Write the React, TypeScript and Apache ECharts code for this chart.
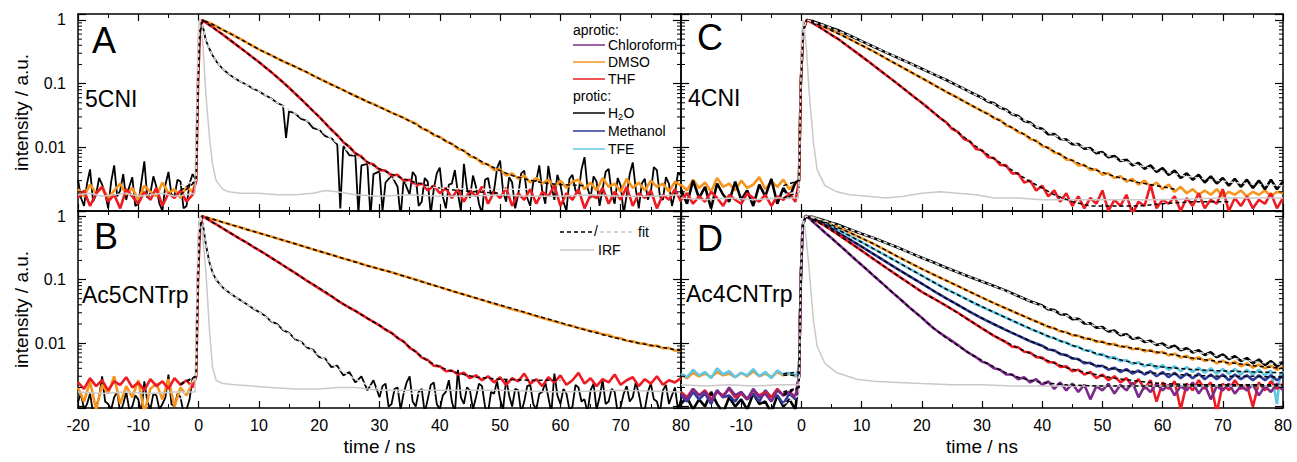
import React, { useEffect, useRef } from 'react';
import * as echarts from 'echarts';

type P = [number, number][];

const FONT = "'Liberation Sans', Arial, Helvetica, sans-serif";
const X_MIN = -20;
const X_MAX = 80;
const X_INTERVAL = 10;
const Y_TICK_VALUES = [1, 0.1, 0.01];
const Y_TICK_LABELS = ['1', '0.1', '0.01'];
const LOG_MINOR = [0.002, 0.003, 0.004, 0.005, 0.006, 0.007, 0.008, 0.009, 0.02, 0.03, 0.04, 0.05, 0.06, 0.07, 0.08, 0.09, 0.2, 0.3, 0.4, 0.5, 0.6, 0.7, 0.8, 0.9];
const PANEL_LETTERS = ['A', 'B', 'C', 'D'];
const PANEL_NAMES = ['5CNI', 'Ac5CNTrp', '4CNI', 'Ac4CNTrp'];
const LEGEND_APROTIC = ['Chloroform', 'DMSO', 'THF'];
const LEGEND_PROTIC = ['H2O', 'Methanol', 'TFE'];

const COL = {
  chcl3: '#7b2a8b', dmso: '#f7941d', thf: '#ed1c24', h2o: '#000000', meoh: '#2e3a97', tfe: '#5fc6e4',
  irf: '#c9c9c9', fitLight: '#e2e2e2',
};

// ---------------- Panel A : 5CNI ----------------
const A_H2O: P = [[-20,.0031],[-19.5,.0016],[-19,.0012],[-18.5,.0027],[-18,.0045],[-17.5,.0014],[-17,.0018],[-16.5,.0033],[-16,.0026],[-15.5,.0019],[-15,.0011],[-14.5,.0029],[-14,.0052],[-13.5,.0017],[-13,.0021],[-12.5,.0038],[-12,.0015],[-11.5,.0024],[-11,.0034],[-10.5,.0012],[-10,.0013],[-9.5,.0028],[-9,.006],[-8.5,.0016],[-8,.0019],[-7.5,.0035],[-7,.0024],[-6.5,.0013],[-6,.001],[-5.5,.0026],[-5,.0041],[-4.5,.0018],[-4,.0017],[-3.5,.0031],[-3,.0029],[-2.5,.0011],[-2,.0012],[-1.5,.0027],[-1,.0038],
[-0.4,.003],[-0.1,.12],[0.1,.7],[0.3,1],[0.8,.72],[1.2,.48],[1.8,.35],[2.3,.28],[3,.22],[4,.17],[5,.142],[6,.121],[7,.107],[8,.096],[9,.084],[10,.076],[11,.066],[12,.059],[13,.05],[14,.045],[14.5,.014],[15,.037],[16,.034],[17,.028],[18,.026],[19,.02],[20,.019],[21,.015],[22,.014],[23,.011],[23.5,.0011],[24,.0105],[25,.0075],[26,.0074],[26.5,.0009],[27,.0052],[28,.0055],[28.5,.0008],[29,.0038],[30,.0042],[30.5,.001],[31,.0028],[32,.0036],[33,.0024],[33.5,.0008],[34,.0031],
[35,.0018],[35.5,.0041],[36,.0035],[36.5,.0012],[37,.0014],[37.5,.0033],[38,.0029],[38.5,.0009],[39,.0022],[39.5,.0039],[40,.0048],[40.5,.0017],[41,.0011],[41.5,.0026],[42,.0027],[42.5,.0044],[43,.0019],[43.5,.001],[44,.0055],[44.5,.0023],[45,.0016],[45.5,.0036],[46,.0024],[46.5,.0013],[47,.0009],[47.5,.0031],[48,.0033],[48.5,.0018],[49,.0021],[49.5,.0047],[50,.0062],[50.5,.002],[51,.0014],[51.5,.0034],[52,.0028],[52.5,.0011],[53,.0018],[53.5,.0039],[54,.0043],[54.5,.0016],[55,.0012],[55.5,.0029],[56,.003],[56.5,.0052],[57,.002],[57.5,.0013],[58,.0051],[58.5,.0025],[59,.0015],[59.5,.0037],[60,.0026],[60.5,.0014],[61,.001],[61.5,.0032],[62,.0037],[62.5,.0021],[63,.0019],[63.5,.0045],[64,.007],[64.5,.0023],[65,.0016],[65.5,.0035],[66,.0029],[66.5,.0012],[67,.0022],[67.5,.0041],[68,.0046],[68.5,.0019],[69,.0013],[69.5,.0033],[70,.0025],[70.5,.0009],[71,.0018],[71.5,.0038],[72,.0058],[72.5,.0022],[73,.0011],[73.5,.0027],[74,.0032],[74.5,.0015],[75,.002],[75.5,.0049],[76,.0044],[76.5,.0017],[77,.0015],[77.5,.0034],[78,.0027],[78.5,.0012],[79,.0019],[79.5,.004],[80,.0036]];
const A_DMSO: P = [[-20,.0022],[-19,.0017],[-18,.0026],[-17,.0019],[-16,.0024],[-15,.0016],[-14,.0021],[-13,.0027],[-12,.0018],[-11,.0023],[-10,.0015],[-9,.0025],[-8,.002],[-7,.0017],[-6,.0028],[-5,.0019],[-4,.0022],[-3,.0016],[-2,.0024],[-1,.002],
[-0.4,.003],[-0.1,.1],[0.2,.6],[0.6,1],[1,.96],[2,.88],[3,.79],[4,.7],[5,.63],[6,.56],[7,.5],[8,.44],[9,.39],[10,.345],[11,.31],[12,.28],[13,.25],[14,.225],[15,.203],[16,.185],[17,.166],[18,.15],[19,.134],[20,.12],[21,.108],[22,.097],[23,.088],[24,.079],[25,.071],[26,.064],[27,.058],[28,.052],[29,.048],[30,.043],[31,.039],[32,.035],[33,.032],[34,.029],[35,.026],[36,.024],[37,.0198],[38,.0185],[39,.0155],[40,.0147],[41,.0124],[42,.0114],[43,.0094],[44,.0089],[45,.0072],[46,.0068],[47,.0056],[48,.0054],[49,.0044],[50,.0045],[51,.0036],[52,.0039],[53,.0032],[54,.0036],[55,.0028],[56,.0033],[57,.0027],[58,.0031],[59,.0024],[60,.003],[61,.0023],[62,.0029],[63,.0031],[64,.0022],[65,.0028],[66,.0021],[67,.0033],[68,.0024],[69,.0027],[70,.002],[71,.0032],[72,.0023],[73,.0028],[74,.0021],[75,.003],[76,.0024],[77,.0027],[78,.002],[79,.0029],[80,.0025]];
const A_THF: P = [[-20,.0016],[-19,.0021],[-18,.0012],[-17,.0019],[-16,.0024],[-15,.0014],[-14,.0018],[-13,.0011],[-12,.0022],[-11,.0017],[-10,.0013],[-9,.002],[-8,.0015],[-7,.0023],[-6,.0012],[-5,.0019],[-4,.0016],[-3,.0021],[-2,.0014],[-1,.0018],
[-0.4,.003],[-0.1,.1],[0.2,.6],[0.6,1],[1,.93],[2,.81],[3,.69],[4,.59],[5,.5],[6,.425],[7,.36],[8,.305],[9,.258],[10,.218],[11,.183],[12,.153],[13,.127],[14,.105],[15,.086],[16,.07],[17,.057],[18,.046],[19,.037],[20,.03],[21,.024],[22,.019],[23,.0155],[24,.012],[25,.0102],[26,.008],[27,.0072],[28,.0057],[29,.0054],[30,.0044],[31,.0043],[32,.0036],[33,.0037],[34,.003],[35,.0031],[36,.0025],[37,.0027],[38,.0021],[39,.0025],[40,.0019],[41,.0023],[42,.0016],[43,.0022],[44,.0014],[45,.0021],[46,.0017],[47,.0024],[48,.0013],[49,.002],[50,.0016],[51,.0023],[52,.0012],[53,.0019],[54,.0015],[55,.0022],[56,.0013],[57,.002],[58,.0017],[59,.0025],[60,.0012],[61,.0019],[62,.0015],[63,.0022],[64,.0011],[65,.0018],[66,.0016],[67,.0023],[68,.0013],[69,.002],[70,.0015],[71,.0024],[72,.0012],[73,.0019],[74,.0016],[75,.0021],[76,.0011],[77,.0018],[78,.0015],[79,.0022],[80,.0014]];
const A_IRF: P = [[-20,.0018],[-18,.0019],[-16,.0017],[-14,.0018],[-12,.0019],[-10,.0017],[-8,.0018],[-6,.0019],[-4,.0017],[-2,.0018],[-0.6,.0019],[-0.3,.05],[-0.1,.5],[0.1,1],[0.7,.43],[1.2,.07],[1.8,.0145],[2.3,.0055],[2.9,.003],[4,.0022],[5,.002],[7,.0019],[10,.0019],[13,.0018],[16,.0018],[19,.0019],[21,.0021],[23,.002],[26,.0018],[30,.0017],[35,.0018],[40,.0017],[45,.0017],[50,.0018],[55,.0017],[60,.0017],[65,.0018],[70,.0017],[75,.0017],[80,.0018]];
const A_FIT_DMSO: P = [[-3,.0021],[-0.4,.003],[-0.1,.1],[0.2,.6],[0.6,1],[2,.88],[4,.7],[6,.56],[8,.44],[10,.345],[12,.28],[14,.225],[16,.185],[18,.15],[20,.12],[22,.097],[24,.079],[26,.064],[28,.052],[30,.043],[32,.035],[34,.029],[36,.023],[38,.018],[40,.0143],[42,.0112],[44,.0087],[46,.0067],[48,.0053],[50,.0043],[52,.0036],[54,.0032],[56,.0029],[58,.0027],[60,.0026],[64,.0025]];
const A_FIT_THF: P = [[-3,.0018],[-0.4,.003],[-0.1,.1],[0.2,.6],[0.6,1],[2,.81],[4,.59],[6,.425],[8,.305],[10,.218],[12,.153],[14,.105],[16,.07],[18,.046],[20,.03],[22,.019],[24,.0123],[26,.0082],[28,.0059],[30,.0046],[32,.0038],[34,.0032],[36,.0028],[38,.0025],[40,.0023],[43,.0021],[46,.002],[50,.0019]];
const A_FIT_H2O: P = [[-3,.0025],[-0.4,.003],[-0.1,.12],[0.1,.7],[0.3,1],[0.8,.72],[1.2,.48],[1.8,.35],[2.3,.28],[3,.22],[4,.17],[6,.121],[8,.096],[10,.076],[12,.058],[14,.044],[16,.034],[18,.026],[20,.019],[22,.0138],[24,.01],[26,.0073],[28,.0054],[30,.0041],[32,.0033],[34,.0028],[36,.0025],[40,.0023],[45,.0022],[50,.0022],[55,.0022]];

// ---------------- Panel B : Ac5CNTrp ----------------
const B_H2O: P = [[-20,.0012],[-19.5,.0016],[-19,.0009],[-18.5,.0011],[-18,.0016],[-17.5,.0008],[-17,.001],[-16.5,.0014],[-16,.003],[-15.5,.0012],[-15,.0011],[-14.5,.0009],[-14,.0014],[-13.5,.0017],[-13,.0008],[-12.5,.0011],[-12,.0017],[-11.5,.0009],[-11,.001],[-10.5,.0015],[-10,.0013],[-9.5,.0008],[-9,.0025],[-8.5,.0012],[-8,.0009],[-7.5,.0016],[-7,.0015],[-6.5,.0009],[-6,.0011],[-5.5,.0014],[-5,.0032],[-4.5,.0011],[-4,.001],[-3.5,.0016],[-3,.0014],[-2.5,.0008],[-2,.0009],[-1.5,.0013],[-1,.0028],
[-0.4,.003],[-0.1,.1],[0.1,.7],[0.3,1],[0.7,.75],[1.2,.36],[1.8,.185],[2.3,.13],[2.9,.1],[4,.075],[5,.063],[6,.054],[7,.047],[8,.041],[9,.035],[10,.031],[11,.027],[12,.022],[13,.02],[14,.016],[15,.0145],[16,.0115],[17,.0105],[18,.0085],[19,.0078],[20,.006],[21,.0057],[22,.0042],[23,.0044],[24,.0031],[25,.0035],[26,.0024],[27,.003],[28,.0018],[29,.0026],
[30,.0014],[30.5,.0021],[31,.0023],[31.5,.001],[32,.0011],[32.5,.0019],[33,.002],[33.5,.0009],[34,.0016],[34.5,.0024],[35,.003],[35.5,.0012],[36,.001],[36.5,.0017],[37,.0019],[37.5,.0008],[38,.0013],[38.5,.0022],[39,.0024],[39.5,.0011],[40,.0009],[40.5,.0015],[41,.0017],[41.5,.0026],[42,.0012],[42.5,.0008],[43,.0038],[43.5,.0014],[44,.0011],[44.5,.002],[45,.0018],[45.5,.0009],[46,.0014],[46.5,.0023],[47,.0021],[47.5,.001],[48,.0008],[48.5,.0017],[49,.0016],[49.5,.0025],[50,.0013],[50.5,.0009],[51,.0027],[51.5,.0015],[52,.001],[52.5,.0019],[53,.0018],[53.5,.0008],[54,.0012],[54.5,.0021],[55,.0022],[55.5,.0011],[56,.0009],[56.5,.0016],[57,.0017],[57.5,.0024],[58,.0014],[58.5,.0008],[59,.0033],[59.5,.0015],[60,.0011],[60.5,.0019],[61,.0016],[61.5,.0009],[62,.001],[62.5,.0022],[63,.002],[63.5,.0012],[64,.0013],[64.5,.0008],[65,.0018],[65.5,.0023],[66,.0009],[66.5,.0014],[67,.0026],[67.5,.0011],[68,.0012],[68.5,.0019],[69,.0017],[69.5,.0008],[70,.001],[70.5,.0016],[71,.0021],[71.5,.0012],[72,.0014],[72.5,.0024],[73,.0016],[73.5,.0009],[74,.0009],[74.5,.0017],[75,.0023],[75.5,.0013],[76,.0012],[76.5,.0008],[77,.0018],[77.5,.0022],[78,.0011],[78.5,.0015],[79,.002],[79.5,.0009],[80,.0013]];
const B_DMSO: P = [[-20,.002],[-19,.0012],[-18,.0025],[-17,.0009],[-16,.0022],[-15,.0016],[-14,.003],[-13,.0011],[-12,.0021],[-11,.0014],[-10,.0026],[-9,.0008],[-8,.0019],[-7,.0023],[-6,.0013],[-5,.0027],[-4,.001],[-3,.002],[-2,.0015],[-1,.0024],
[-0.4,.003],[-0.1,.1],[0.2,.6],[0.6,1],[1,.97],[2,.91],[3,.855],[4,.8],[5,.75],[6,.7],[7,.66],[8,.615],[9,.575],[10,.54],[12,.475],[14,.415],[16,.365],[18,.32],[20,.28],[22,.245],[24,.215],[26,.19],[28,.165],[30,.147],[32,.13],[34,.114],[36,.1],[38,.087],[40,.076],[42,.066],[44,.058],[46,.051],[48,.0445],[50,.039],[52,.034],[54,.0302],[56,.0265],[58,.0232],[60,.0207],[61,.0192],[62,.0186],[63,.0172],[64,.0165],[65,.0154],[66,.0149],[67,.0137],[68,.0134],[69,.0122],[70,.0119],[71,.0109],[72,.0107],[73,.0099],[74,.0098],[75,.009],[76,.0091],[77,.0083],[78,.0084],[79,.0076],[80,.0077]];
const B_THF: P = [[-20,.0024],[-19,.0019],[-18,.0028],[-17,.0021],[-16,.0026],[-15,.0018],[-14,.0025],[-13,.0022],[-12,.0029],[-11,.002],[-10,.0024],[-9,.0018],[-8,.0027],[-7,.0021],[-6,.0025],[-5,.0019],[-4,.0028],[-3,.0022],[-2,.0026],[-1,.002],
[-0.4,.003],[-0.1,.1],[0.2,.6],[0.6,1],[1,.95],[2,.83],[3,.73],[4,.64],[5,.56],[6,.49],[7,.43],[8,.38],[9,.33],[10,.29],[11,.255],[12,.222],[13,.193],[14,.168],[15,.146],[16,.127],[17,.11],[18,.095],[19,.083],[20,.072],[21,.063],[22,.055],[23,.047],[24,.041],[25,.036],[26,.032],[27,.028],[28,.0245],[29,.0215],[30,.019],[31,.0162],[32,.0145],[33,.012],[34,.0106],[35,.0084],[36,.0074],[37,.0059],[38,.0054],[39,.0044],[40,.0043],[41,.0036],[42,.0037],[43,.0032],[44,.0034],[45,.0028],[46,.0031],[47,.0026],[48,.003],[49,.0024],[50,.0029],[51,.0022],[52,.0028],[53,.0025],[54,.0033],[55,.0023],[56,.0027],[57,.0021],[58,.0029],[59,.0024],[60,.0031],[61,.0022],[62,.0026],[63,.0034],[64,.0023],[65,.0028],[66,.0021],[67,.0027],[68,.0024],[69,.0032],[70,.0022],[71,.0026],[72,.0029],[73,.0021],[74,.0027],[75,.0023],[76,.003],[77,.0022],[78,.0026],[79,.0024],[80,.0028]];
const B_IRF: P = [[-20,.0017],[-16,.0016],[-12,.0017],[-8,.0016],[-4,.0017],[-0.6,.0017],[-0.3,.05],[-0.1,.5],[0.2,1],[0.7,.45],[1.2,.137],[1.8,.016],[2.3,.0042],[2.9,.0026],[4,.0023],[6,.0022],[9,.0021],[12,.002],[16,.0019],[20,.0019],[23,.002],[26,.002],[30,.0018],[35,.0018],[40,.0018],[50,.0018],[60,.0017],[70,.0018],[80,.0017]];
const B_FIT_DMSO: P = [[-3,.0022],[-0.4,.003],[-0.1,.1],[0.2,.6],[0.6,1],[4,.8],[8,.615],[12,.475],[16,.365],[20,.28],[24,.215],[28,.165],[32,.13],[36,.099],[40,.076],[44,.058],[48,.045],[52,.035],[56,.027],[60,.021],[64,.0162],[68,.0128],[72,.0104],[76,.0089],[80,.0076]];
const B_FIT_THF: P = [[-3,.0023],[-0.4,.003],[-0.1,.1],[0.2,.6],[0.6,1],[2,.83],[4,.64],[6,.49],[8,.38],[10,.29],[12,.222],[14,.168],[16,.127],[18,.095],[20,.074],[22,.055],[24,.041],[26,.032],[28,.0245],[30,.019],[32,.0143],[34,.0104],[36,.0072],[38,.0052],[40,.0042],[42,.0036],[44,.0032],[46,.0029],[50,.0027],[55,.0026],[60,.0026]];
const B_FIT_H2O: P = [[-3,.0013],[-0.4,.003],[-0.1,.1],[0.1,.7],[0.3,1],[0.7,.75],[1.2,.36],[1.8,.185],[2.3,.13],[2.9,.1],[4,.075],[6,.054],[8,.041],[10,.031],[12,.0225],[14,.0165],[16,.012],[18,.0088],[20,.0064],[22,.0047],[24,.0035],[26,.0027],[28,.0022],[30,.0019],[33,.0017],[36,.0016],[40,.0016]];

// ---------------- Panel C : 4CNI ----------------
const C_H2O: P = [[-20,.0022],[-19,.0013],[-18,.003],[-17,.0016],[-16,.0024],[-15,.0011],[-14,.0027],[-13,.0018],[-12,.0014],[-11,.0029],[-10,.0015],[-9,.0021],[-8,.0012],[-7,.0026],[-6,.0017],[-5,.0032],[-4,.0013],[-3,.0023],[-2,.0016],[-1,.0028],
[-0.4,.003],[-0.1,.1],[0.3,.7],[0.9,1],[2,.95],[3,.88],[4,.81],[5,.75],[6,.695],[8,.57],[10,.465],[12,.38],[14,.31],[16,.255],[18,.21],[20,.171],[22,.14],[24,.115],[26,.092],[28,.074],[30,.06],[31,.052],[32,.049],[33,.042],[34,.039],[35,.033],[36,.031],[37,.026],[38,.0245],[39,.0205],[40,.0195],[41,.016],[42,.0162],[43,.0135],[44,.0133],[45,.0112],[46,.0113],[47,.0095],[48,.0097],[49,.0081],[50,.0084],[51,.007],[52,.0073],[53,.0061],[54,.0064],[55,.0052],[56,.0057],[57,.0046],[58,.0052],[59,.0041],[60,.0047],[61,.0037],[62,.0043],[63,.0033],[64,.0039],[65,.0031],[66,.0037],[67,.0028],[68,.0035],[69,.0027],[70,.0033],[71,.0025],[72,.0032],[73,.0024],[74,.0031],[75,.0023],[76,.003],[77,.0022],[78,.0031],[79,.0022],[80,.0029]];
const C_DMSO: P = [[-20,.0026],[-19,.0021],[-18,.0031],[-17,.0023],[-16,.0028],[-15,.002],[-14,.0033],[-13,.0024],[-12,.0027],[-11,.0021],[-10,.003],[-9,.0023],[-8,.0026],[-7,.0034],[-6,.0022],[-5,.0029],[-4,.0024],[-3,.0031],[-2,.0022],[-1,.0027],
[-0.4,.003],[-0.1,.1],[0.3,.7],[0.9,1],[2,.92],[3,.84],[4,.76],[5,.69],[6,.625],[8,.5],[10,.4],[12,.32],[14,.25],[16,.197],[18,.155],[20,.122],[22,.096],[24,.075],[26,.06],[28,.047],[30,.037],[31,.034],[32,.0285],[33,.027],[34,.022],[35,.0205],[36,.0172],[37,.0162],[38,.0134],[39,.0128],[40,.0104],[41,.0099],[42,.0082],[43,.0079],[44,.0064],[45,.0063],[46,.0052],[47,.0053],[48,.0044],[49,.0045],[50,.0037],[51,.0039],[52,.0033],[53,.0035],[54,.0029],[55,.0032],[56,.0026],[57,.003],[58,.0024],[59,.0028],[60,.0022],[61,.0026],[62,.002],[63,.0024],[64,.0019],[65,.0022],[66,.0018],[67,.0021],[68,.0018],[69,.0022],[70,.0017],[71,.002],[72,.0018],[73,.0021],[74,.0017],[75,.002],[76,.0018],[77,.0021],[78,.0017],[79,.002],[80,.0019]];
const C_THF: P = [[-20,.0015],[-19,.0019],[-18,.0013],[-17,.0017],[-16,.0014],[-15,.002],[-14,.0016],[-13,.0012],[-12,.0018],[-11,.0015],[-10,.0013],[-9,.0019],[-8,.0016],[-7,.0014],[-6,.0018],[-5,.0012],[-4,.0017],[-3,.0015],[-2,.0019],[-1,.0014],
[-0.4,.003],[-0.1,.1],[0.3,.7],[0.9,1],[2,.88],[3,.77],[4,.67],[5,.58],[6,.51],[7,.435],[8,.37],[9,.315],[10,.268],[11,.228],[12,.193],[13,.163],[14,.138],[15,.117],[16,.099],[17,.083],[18,.07],[19,.059],[20,.05],[21,.042],[22,.035],[23,.029],[24,.025],[25,.0195],[26,.0175],[27,.0135],[28,.0124],[29,.0094],[30,.009],[31,.007],[32,.0068],[33,.0053],[34,.0052],[35,.0039],[36,.0039],[37,.0028],[38,.003],[39,.0021],[40,.0025],[41,.0017],[42,.0021],[43,.0014],[44,.0019],[45,.0012],[46,.0017],[47,.0011],[48,.0016],[49,.0013],[50,.0021],[51,.001],[52,.0015],[53,.0012],[54,.0018],[55,.0009],[56,.0014],[57,.0012],[58,.0026],[59,.0011],[60,.0015],[61,.0013],[62,.0017],[63,.001],[64,.0016],[65,.0012],[66,.0019],[67,.0011],[68,.0015],[69,.0013],[70,.0022],[71,.001],[72,.0016],[73,.0012],[74,.0017],[75,.0011],[76,.0015],[77,.0013],[78,.0019],[79,.0011],[80,.0016]];
const C_IRF: P = [[-20,.0016],[-16,.0015],[-12,.0016],[-8,.0015],[-4,.0016],[-0.5,.0016],[-0.2,.05],[0,.5],[0.3,1],[0.8,.4],[1.3,.07],[2,.012],[2.6,.0045],[3.9,.0025],[5.9,.002],[8,.0018],[11,.0017],[14,.0016],[17,.0017],[20,.0019],[23,.002],[26,.0019],[29,.0018],[32,.0016],[36,.0016],[40,.0015],[50,.0015],[60,.0015],[70,.0016],[80,.0016]];
const C_FIT_H2O: P = [[-3,.0018],[-0.4,.002],[-0.1,.1],[0.3,.7],[0.9,1],[4,.81],[8,.57],[12,.38],[16,.255],[20,.171],[24,.115],[28,.074],[32,.048],[36,.03],[40,.0188],[44,.0128],[48,.0092],[52,.0068],[56,.0052],[60,.0042],[64,.0035],[68,.0031],[72,.0028],[76,.0026],[80,.0025]];
const C_FIT_DMSO: P = [[-3,.0025],[-0.4,.003],[-0.1,.1],[0.3,.7],[0.9,1],[4,.76],[8,.5],[12,.32],[16,.197],[20,.122],[24,.075],[28,.047],[32,.0293],[36,.018],[40,.0109],[44,.0068],[48,.0047],[52,.0035],[56,.0028],[60,.0024],[62,.0022]];
const C_FIT_THF: P = [[-3,.0016],[-0.4,.002],[-0.1,.1],[0.3,.7],[0.9,1],[2,.88],[4,.67],[6,.51],[8,.37],[10,.268],[12,.193],[14,.138],[16,.099],[18,.07],[20,.05],[22,.035],[24,.0245],[26,.0172],[28,.0122],[30,.0088],[32,.0066],[34,.005],[36,.0038],[38,.0029],[40,.0023],[42,.0018],[45,.0014],[48,.0012],[52,.0012],[56,.0012],[60,.0013],[65,.0014],[71,.0014]];

// ---------------- Panel D : Ac4CNTrp ----------------
const D_H2O: P = [[-20,.0011],[-19,.0014],[-18,.0009],[-17,.0013],[-16,.001],[-15,.0017],[-14,.0011],[-13,.0008],[-12,.0014],[-11,.001],[-10,.0013],[-9,.0009],[-8,.0016],[-7,.0011],[-6,.0012],[-5,.0008],[-4,.0015],[-3,.001],[-2,.0013],[-1,.0009],
[-0.4,.003],[-0.1,.1],[0.2,.7],[0.7,1],[2,.96],[3,.9],[4,.84],[5,.785],[6,.735],[8,.62],[10,.525],[12,.45],[14,.38],[16,.32],[18,.265],[20,.22],[22,.185],[24,.155],[26,.13],[28,.11],[30,.093],[32,.079],[34,.067],[36,.055],[38,.0455],[40,.039],[41,.034],[42,.033],[43,.0285],[44,.028],[45,.0238],[46,.0241],[47,.0204],[48,.0205],[49,.0175],[50,.0178],[51,.0152],[52,.0157],[53,.0133],[54,.0138],[55,.0117],[56,.0121],[57,.0104],[58,.0109],[59,.0093],[60,.0098],[61,.0085],[62,.0091],[63,.0077],[64,.0083],[65,.0071],[66,.0077],[67,.0065],[68,.0072],[69,.006],[70,.0066],[71,.0056],[72,.0062],[73,.0052],[74,.0058],[75,.0048],[76,.0055],[77,.0045],[78,.0052],[79,.0043],[80,.005]];
const D_DMSO: P = [[-20,.0031],[-19,.0028],[-18,.0034],[-17,.003],[-16,.0033],[-15,.0029],[-14,.0035],[-13,.0031],[-12,.0033],[-11,.0029],[-10,.0034],[-9,.003],[-8,.0036],[-7,.003],[-6,.0033],[-5,.0029],[-4,.0035],[-3,.0031],[-2,.0033],[-1,.003],
[-0.4,.003],[-0.1,.1],[0.2,.7],[0.7,1],[2,.95],[3,.87],[4,.8],[5,.73],[6,.67],[8,.55],[10,.45],[12,.365],[14,.29],[16,.23],[18,.183],[20,.147],[22,.119],[24,.097],[26,.079],[28,.064],[30,.052],[32,.0425],[34,.035],[36,.029],[38,.024],[40,.0202],[41,.0178],[42,.0172],[43,.0152],[44,.0149],[45,.0132],[46,.0131],[47,.0117],[48,.0118],[49,.0104],[50,.0106],[51,.0095],[52,.0097],[53,.0087],[54,.0089],[55,.008],[56,.0083],[57,.0074],[58,.0078],[59,.0069],[60,.0073],[61,.0064],[62,.0068],[63,.0059],[64,.0063],[65,.0055],[66,.006],[67,.0052],[68,.0056],[69,.0048],[70,.0053],[71,.0046],[72,.0051],[73,.0043],[74,.0048],[75,.0041],[76,.0046],[77,.004],[78,.0044],[79,.0038],[80,.0042]];
const D_TFE: P = [[-20,.0033],[-19,.0029],[-18,.0038],[-17,.0031],[-16,.0035],[-15,.0028],[-14,.004],[-13,.0032],[-12,.0036],[-11,.0029],[-10,.0034],[-9,.0031],[-8,.0039],[-7,.003],[-6,.0035],[-5,.0028],[-4,.0037],[-3,.0032],[-2,.0034],[-1,.003],
[-0.4,.004],[-0.1,.1],[0.2,.7],[0.7,1],[2,.93],[3,.85],[4,.77],[5,.69],[6,.615],[8,.49],[10,.39],[12,.305],[14,.24],[16,.188],[18,.147],[20,.115],[22,.09],[24,.071],[26,.058],[28,.046],[30,.037],[32,.0305],[34,.025],[36,.0205],[38,.0167],[40,.0142],[41,.0125],[42,.0121],[43,.0106],[44,.0103],[45,.009],[46,.0088],[47,.0077],[48,.0076],[49,.0066],[50,.0067],[51,.0058],[52,.006],[53,.0052],[54,.0054],[55,.0047],[56,.005],[57,.0043],[58,.0047],[59,.004],[60,.0045],[61,.0038],[62,.0043],[63,.0036],[64,.0042],[65,.0035],[66,.0041],[67,.0034],[68,.004],[69,.0033],[70,.0039],[71,.0033],[72,.0039],[73,.0032],[74,.0038],[75,.0032],[76,.0038],[77,.0031],[78,.0037],[79,.0011],[79.5,.0031],[80,.0036]];
const D_MEOH: P = [[-20,.0015],[-19,.0012],[-18,.0017],[-17,.0013],[-16,.0016],[-15,.0011],[-14,.0018],[-13,.0014],[-12,.0015],[-11,.0012],[-10,.0017],[-9,.0013],[-8,.0016],[-7,.0012],[-6,.0018],[-5,.0014],[-4,.0015],[-3,.0011],[-2,.0016],[-1,.0013],
[-0.4,.003],[-0.1,.1],[0.2,.7],[0.7,1],[2,.91],[3,.81],[4,.72],[5,.635],[6,.555],[8,.43],[10,.33],[12,.252],[14,.192],[16,.146],[18,.112],[20,.086],[22,.066],[24,.051],[26,.04],[28,.031],[30,.0245],[32,.0198],[34,.016],[36,.0131],[38,.0107],[40,.0091],[41,.0079],[42,.0077],[43,.0067],[44,.0065],[45,.0057],[46,.0056],[47,.0048],[48,.0049],[49,.0043],[50,.0044],[51,.0038],[52,.0041],[53,.0035],[54,.0039],[55,.0033],[56,.0037],[57,.0032],[58,.0036],[59,.003],[60,.0035],[61,.0029],[62,.0034],[63,.0028],[64,.0033],[65,.0028],[66,.0033],[67,.0027],[68,.0032],[69,.0027],[70,.0032],[71,.0026],[72,.0032],[73,.0027],[74,.0031],[75,.0026],[76,.0031],[77,.0026],[78,.0031],[79,.0026],[80,.003]];
const D_THF: P = [[-20,.0017],[-19,.0014],[-18,.0019],[-17,.0015],[-16,.0018],[-15,.0013],[-14,.0017],[-13,.0015],[-12,.0019],[-11,.0014],[-10,.0016],[-9,.0013],[-8,.0018],[-7,.0015],[-6,.0017],[-5,.0014],[-4,.0019],[-3,.0015],[-2,.0017],[-1,.0014],
[-0.4,.003],[-0.1,.1],[0.2,.7],[0.7,1],[2,.89],[3,.79],[4,.69],[5,.6],[6,.52],[8,.385],[10,.285],[12,.21],[14,.155],[16,.115],[18,.086],[20,.064],[22,.05],[24,.039],[26,.03],[28,.0225],[30,.017],[32,.013],[34,.0103],[35,.0088],[36,.0086],[37,.0073],[38,.0071],[39,.006],[40,.0059],[41,.005],[42,.005],[43,.0042],[44,.0043],[45,.0036],[46,.0038],[47,.0032],[48,.0035],[49,.0028],[50,.0032],[51,.0026],[52,.003],[53,.0024],[54,.0028],[55,.0021],[56,.0027],[57,.0019],[58,.0026],[59,.0012],[60,.0024],[61,.0019],[62,.0025],[63,.0009],[64,.0023],[65,.0018],[66,.0026],[67,.0019],[68,.0024],[69,.0008],[70,.0023],[71,.0018],[72,.0026],[73,.0019],[74,.0022],[75,.001],[76,.0024],[77,.0018],[78,.0025],[79,.0019],[80,.0023]];
const D_CHCL3: P = [[-20,.0016],[-19,.0013],[-18,.0019],[-17,.0015],[-16,.0017],[-15,.0012],[-14,.0018],[-13,.0014],[-12,.002],[-11,.0015],[-10,.0017],[-9,.0013],[-8,.0019],[-7,.0014],[-6,.0016],[-5,.0012],[-4,.0018],[-3,.0015],[-2,.0017],[-1,.0014],
[-0.4,.003],[-0.1,.1],[0.2,.7],[0.7,1],[1,.98],[2,.8],[3,.66],[4,.54],[5,.45],[6,.37],[7,.305],[8,.25],[9,.205],[10,.17],[11,.14],[12,.115],[13,.095],[14,.078],[15,.064],[16,.053],[17,.044],[18,.036],[19,.03],[20,.025],[21,.0205],[22,.017],[23,.0145],[24,.0125],[25,.0108],[26,.0093],[27,.0079],[28,.0068],[29,.006],[30,.0051],[31,.0047],[32,.004],[33,.0038],[34,.0032],[35,.0032],[36,.0027],[37,.0029],[38,.0024],[39,.0027],[40,.0022],[41,.0025],[42,.0019],[43,.0024],[44,.0018],[45,.0023],[46,.0017],[47,.0022],[48,.0013],[49,.0021],[50,.0018],[51,.0023],[52,.0016],[53,.0022],[54,.0018],[55,.0024],[56,.0014],[57,.0021],[58,.0017],[59,.0023],[60,.0018],[61,.0022],[62,.0015],[63,.0021],[64,.0018],[65,.0024],[66,.0016],[67,.0022],[68,.0013],[69,.0021],[70,.0018],[71,.0023],[72,.0016],[73,.0021],[74,.0018],[75,.0022],[76,.0015],[77,.0021],[78,.0017],[79,.0023],[80,.0018]];
const D_IRF: P = [[-20,.0022],[-16,.0021],[-12,.0022],[-8,.0021],[-4,.0022],[-0.5,.0022],[-0.2,.05],[0,.5],[0.3,1],[0.8,.45],[1.3,.14],[2,.023],[2.6,.009],[3.9,.0048],[5.9,.0034],[9.2,.0027],[12,.0025],[16,.0024],[20,.0023],[25,.0022],[30,.0022],[35,.0021],[40,.0021],[50,.0021],[60,.0021],[70,.0021],[80,.0021]];
const D_FIT_H2O: P = [[-3,.0011],[-0.4,.0015],[-0.1,.1],[0.2,.7],[0.7,1],[4,.84],[8,.62],[12,.45],[16,.32],[20,.22],[24,.155],[28,.11],[32,.079],[36,.055],[40,.038],[44,.0272],[48,.0198],[52,.0148],[56,.0115],[60,.0092],[64,.0077],[68,.0066],[72,.0057],[76,.005],[80,.0046]];
const D_FIT_DMSO: P = [[-3,.0031],[-0.4,.0031],[-0.1,.1],[0.2,.7],[0.7,1],[4,.8],[8,.55],[12,.365],[16,.23],[20,.147],[24,.097],[28,.064],[32,.0425],[36,.029],[40,.0198],[44,.0145],[48,.0114],[52,.0093],[56,.008],[60,.007],[64,.006],[68,.0053],[72,.0048],[76,.0043],[80,.004]];
const D_FIT_TFE: P = [[-3,.0033],[-0.4,.0035],[-0.1,.1],[0.2,.7],[0.7,1],[4,.77],[8,.49],[12,.305],[16,.188],[20,.115],[24,.071],[28,.046],[32,.0305],[36,.0205],[40,.014],[44,.01],[48,.0073],[52,.0057],[56,.0047],[60,.0042],[64,.0039],[68,.0037],[72,.0036],[76,.0035],[80,.0034]];
const D_FIT_MEOH: P = [[-3,.0015],[-0.4,.002],[-0.1,.1],[0.2,.7],[0.7,1],[4,.72],[8,.43],[12,.252],[16,.146],[20,.086],[24,.051],[28,.031],[32,.0198],[36,.0131],[40,.0089],[44,.0063],[48,.0047],[52,.0039],[56,.0035],[60,.0033],[65,.0031],[70,.003],[75,.003],[80,.0029]];
const D_FIT_THF: P = [[-3,.0017],[-0.4,.002],[-0.1,.1],[0.2,.7],[0.7,1],[4,.69],[8,.385],[12,.21],[16,.115],[20,.064],[24,.039],[28,.0225],[32,.013],[36,.0083],[40,.0057],[44,.0041],[48,.0033],[52,.0028],[56,.0025],[60,.0023],[66,.0022],[72,.0022],[80,.0022]];
const D_FIT_CHCL3: P = [[-3,.0016],[-0.4,.002],[-0.1,.1],[0.2,.7],[0.7,1],[2,.8],[4,.54],[6,.37],[8,.25],[10,.17],[12,.115],[14,.078],[16,.053],[18,.036],[20,.025],[22,.017],[24,.0122],[26,.0091],[28,.0068],[30,.0053],[32,.0042],[34,.0034],[36,.0029],[38,.0026],[40,.0024],[44,.0022],[50,.0021],[60,.0021],[70,.0021],[80,.0021]];

const GRIDS = [
  { left: 78, top: 14, width: 603, height: 197 },
  { left: 78, top: 211, width: 603, height: 197 },
  { left: 681, top: 14, width: 602, height: 197 },
  { left: 681, top: 211, width: 602, height: 197 },
];
const Y_RANGES = [[0.001, 1.24], [0.00095, 1.2], [0.001, 1.24], [0.00095, 1.2]];

const dataLine = (g: number, name: string, data: P, color: string, width = 2.6) => ({
  type: 'line', name, xAxisIndex: g, yAxisIndex: g, data, showSymbol: false, symbol: 'none',
  lineStyle: { color, width, join: 'bevel' }, itemStyle: { color }, silent: true, clip: true, z: 2,
});
const fitLine = (g: number, data: P, color: string) => ({
  type: 'line', xAxisIndex: g, yAxisIndex: g, data, showSymbol: false, symbol: 'none',
  lineStyle: { color, width: 1.5, type: [4, 3] }, itemStyle: { color }, silent: true, clip: true, z: 3,
});

function buildOption() {
  const xAxes: any[] = [];
  const yAxes: any[] = [];
  const lineStyle = { color: '#000', width: 1.5 };
  for (let pos = 0; pos < 2; pos++) {
    GRIDS.forEach((_, g) => {
      const bottom = pos === 0;
      const showLabels = bottom && (g === 1 || g === 3);
      xAxes.push({
        type: 'value', gridIndex: g, position: bottom ? 'bottom' : 'top', min: X_MIN, max: X_MAX, interval: X_INTERVAL,
        axisLine: { show: true, onZero: false, lineStyle },
        axisTick: { show: true, inside: true, length: 7, lineStyle: { color: '#000', width: 1.2 } },
        minorTick: { show: true, splitNumber: 2, length: 4, lineStyle: { color: '#000', width: 1 } },
        splitLine: { show: false }, minorSplitLine: { show: false },
        axisLabel: {
          show: showLabels, margin: 9, fontSize: 16, color: '#000', fontFamily: FONT,
          formatter: (v: number) => (g === 3 && v === X_MIN ? '' : String(v)),
        },
        name: showLabels ? 'time / ns' : '', nameLocation: 'middle', nameGap: 29,
        nameTextStyle: { fontSize: 19, color: '#000', fontFamily: FONT },
      });
    });
  }
  for (let pos = 0; pos < 2; pos++) {
    GRIDS.forEach((_, g) => {
      const left = pos === 0;
      const showLabels = left && (g === 0 || g === 1);
      yAxes.push({
        type: 'log', logBase: 10, gridIndex: g, position: left ? 'left' : 'right',
        min: Y_RANGES[g][0], max: Y_RANGES[g][1],
        axisLine: { show: true, onZero: false, lineStyle },
        axisTick: { show: true, inside: true, length: 8, lineStyle: { color: '#000', width: 1.2 } },
        minorTick: { show: false }, splitLine: { show: false },
        axisLabel: {
          show: showLabels, margin: 12, fontSize: 16, color: '#000', fontFamily: FONT,
          formatter: (v: number) => {
            const i = Y_TICK_VALUES.findIndex((t) => Math.abs(v - t) / t < 1e-6);
            return i >= 0 ? Y_TICK_LABELS[i] : '';
          },
        },
        name: showLabels ? 'intensity / a.u.' : '', nameLocation: 'middle', nameGap: 46,
        nameTextStyle: { fontSize: 19, color: '#000', fontFamily: FONT },
      });
    });
  }

  const series: any[] = [
    // A
    dataLine(0, 'H2O', A_H2O, COL.h2o, 1.8), dataLine(0, 'DMSO', A_DMSO, COL.dmso), dataLine(0, 'THF', A_THF, COL.thf),
    dataLine(0, 'IRF', A_IRF, COL.irf, 1.5),
    fitLine(0, A_FIT_DMSO, '#000'), fitLine(0, A_FIT_THF, '#000'), fitLine(0, A_FIT_H2O, COL.fitLight),
    // B
    dataLine(1, 'H2O', B_H2O, COL.h2o, 1.8), dataLine(1, 'DMSO', B_DMSO, COL.dmso), dataLine(1, 'THF', B_THF, COL.thf),
    dataLine(1, 'IRF', B_IRF, COL.irf, 1.5),
    fitLine(1, B_FIT_DMSO, '#000'), fitLine(1, B_FIT_THF, '#000'), fitLine(1, B_FIT_H2O, COL.fitLight),
    // C
    dataLine(2, 'DMSO', C_DMSO, COL.dmso), dataLine(2, 'H2O', C_H2O, COL.h2o), dataLine(2, 'THF', C_THF, COL.thf),
    dataLine(2, 'IRF', C_IRF, COL.irf, 1.5),
    fitLine(2, C_FIT_DMSO, '#000'), fitLine(2, C_FIT_THF, '#000'), fitLine(2, C_FIT_H2O, COL.fitLight),
    // D
    dataLine(3, 'H2O', D_H2O, COL.h2o), dataLine(3, 'DMSO', D_DMSO, COL.dmso), dataLine(3, 'TFE', D_TFE, COL.tfe),
    dataLine(3, 'Methanol', D_MEOH, COL.meoh), dataLine(3, 'THF', D_THF, COL.thf), dataLine(3, 'Chloroform', D_CHCL3, COL.chcl3),
    dataLine(3, 'IRF', D_IRF, COL.irf, 1.5),
    fitLine(3, D_FIT_DMSO, '#000'), fitLine(3, D_FIT_TFE, '#000'), fitLine(3, D_FIT_MEOH, '#000'),
    fitLine(3, D_FIT_THF, '#000'), fitLine(3, D_FIT_CHCL3, '#000'), fitLine(3, D_FIT_H2O, COL.fitLight),
  ];

  // log minor ticks on left & right edges of each panel, placed through the axes
  GRIDS.forEach((_, g) => {
    series.push({
      type: 'custom', xAxisIndex: g, yAxisIndex: g, silent: true, clip: false, z: 10,
      data: LOG_MINOR.map((v) => [X_MIN, v]),
      renderItem: (_p: any, api: any) => {
        const v = api.value(1);
        const l = api.coord([X_MIN, v]);
        const r = api.coord([X_MAX, v]);
        const st = { stroke: '#000', lineWidth: 1 };
        return {
          type: 'group',
          children: [
            { type: 'line', shape: { x1: l[0], y1: l[1], x2: l[0] + 4, y2: l[1] }, style: st },
            { type: 'line', shape: { x1: r[0] - 4, y1: r[1], x2: r[0], y2: r[1] }, style: st },
          ],
        };
      },
    });
  });

  const txt = (x: number, y: number, text: string, size: number, extra: any = {}) => ({
    type: 'text', x, y, silent: true, z: 20,
    style: { text, fill: '#000', fontSize: size, fontFamily: FONT, textAlign: 'left', textVerticalAlign: 'middle', align: 'left', verticalAlign: 'middle', ...extra },
  });
  const seg = (x1: number, x2: number, y: number, stroke: string, dash?: number[]) => ({
    type: 'line', silent: true, z: 20, shape: { x1, y1: y, x2, y2: y },
    style: { stroke, lineWidth: 1.5, lineDash: dash },
  });

  const graphic: any[] = [
    txt(92, 40, PANEL_LETTERS[0], 36), txt(85, 99, PANEL_NAMES[0], 23),
    txt(94, 236, PANEL_LETTERS[1], 36), txt(82, 295, PANEL_NAMES[1], 23),
    txt(697, 37, PANEL_LETTERS[2], 36), txt(688, 98, PANEL_NAMES[2], 23),
    txt(697, 238, PANEL_LETTERS[3], 36), txt(686, 294, PANEL_NAMES[3], 23),
    // legend in A
    txt(573, 30, 'aprotic:', 14),
    seg(573, 605, 45, COL.chcl3), txt(608, 45, LEGEND_APROTIC[0], 14),
    seg(573, 605, 62, COL.dmso), txt(608, 62, LEGEND_APROTIC[1], 14),
    seg(573, 605, 79, COL.thf), txt(608, 79, LEGEND_APROTIC[2], 14),
    txt(573, 96, 'protic:', 14),
    seg(573, 605, 113, COL.h2o), txt(608, 113, 'H', 14), txt(618, 117, '2', 9), txt(623.5, 113, 'O', 14),
    seg(573, 605, 131, COL.meoh), txt(608, 131, LEGEND_PROTIC[1], 14),
    seg(573, 605, 149, COL.tfe), txt(608, 149, LEGEND_PROTIC[2], 14),
    // legend in B
    seg(560, 593, 232, '#000', [4, 3]), txt(594, 231, '/', 14), seg(600, 634, 232, '#c8c8c8', [4, 3]), txt(638, 232, 'fit', 14),
    seg(560, 594, 250, COL.irf), txt(598, 250, 'IRF', 14),
  ];

  return {
    animation: false,
    backgroundColor: '#ffffff',
    textStyle: { fontFamily: FONT },
    grid: GRIDS.map((g) => ({ ...g, containLabel: false })),
    xAxis: xAxes,
    yAxis: yAxes,
    series,
    graphic,
  };
}

export default function App() {
  const ref = useRef<HTMLDivElement>(null);
  useEffect(() => {
    if (!ref.current) return;
    const chart = echarts.init(ref.current, undefined, { renderer: 'svg' });
    chart.setOption(buildOption() as any);
    return () => chart.dispose();
  }, []);
  return (
    <div
      ref={ref}
      style={{ position: 'fixed', left: 0, top: 0, width: 1297, height: 462, background: '#fff' }}
    />
  );
}
